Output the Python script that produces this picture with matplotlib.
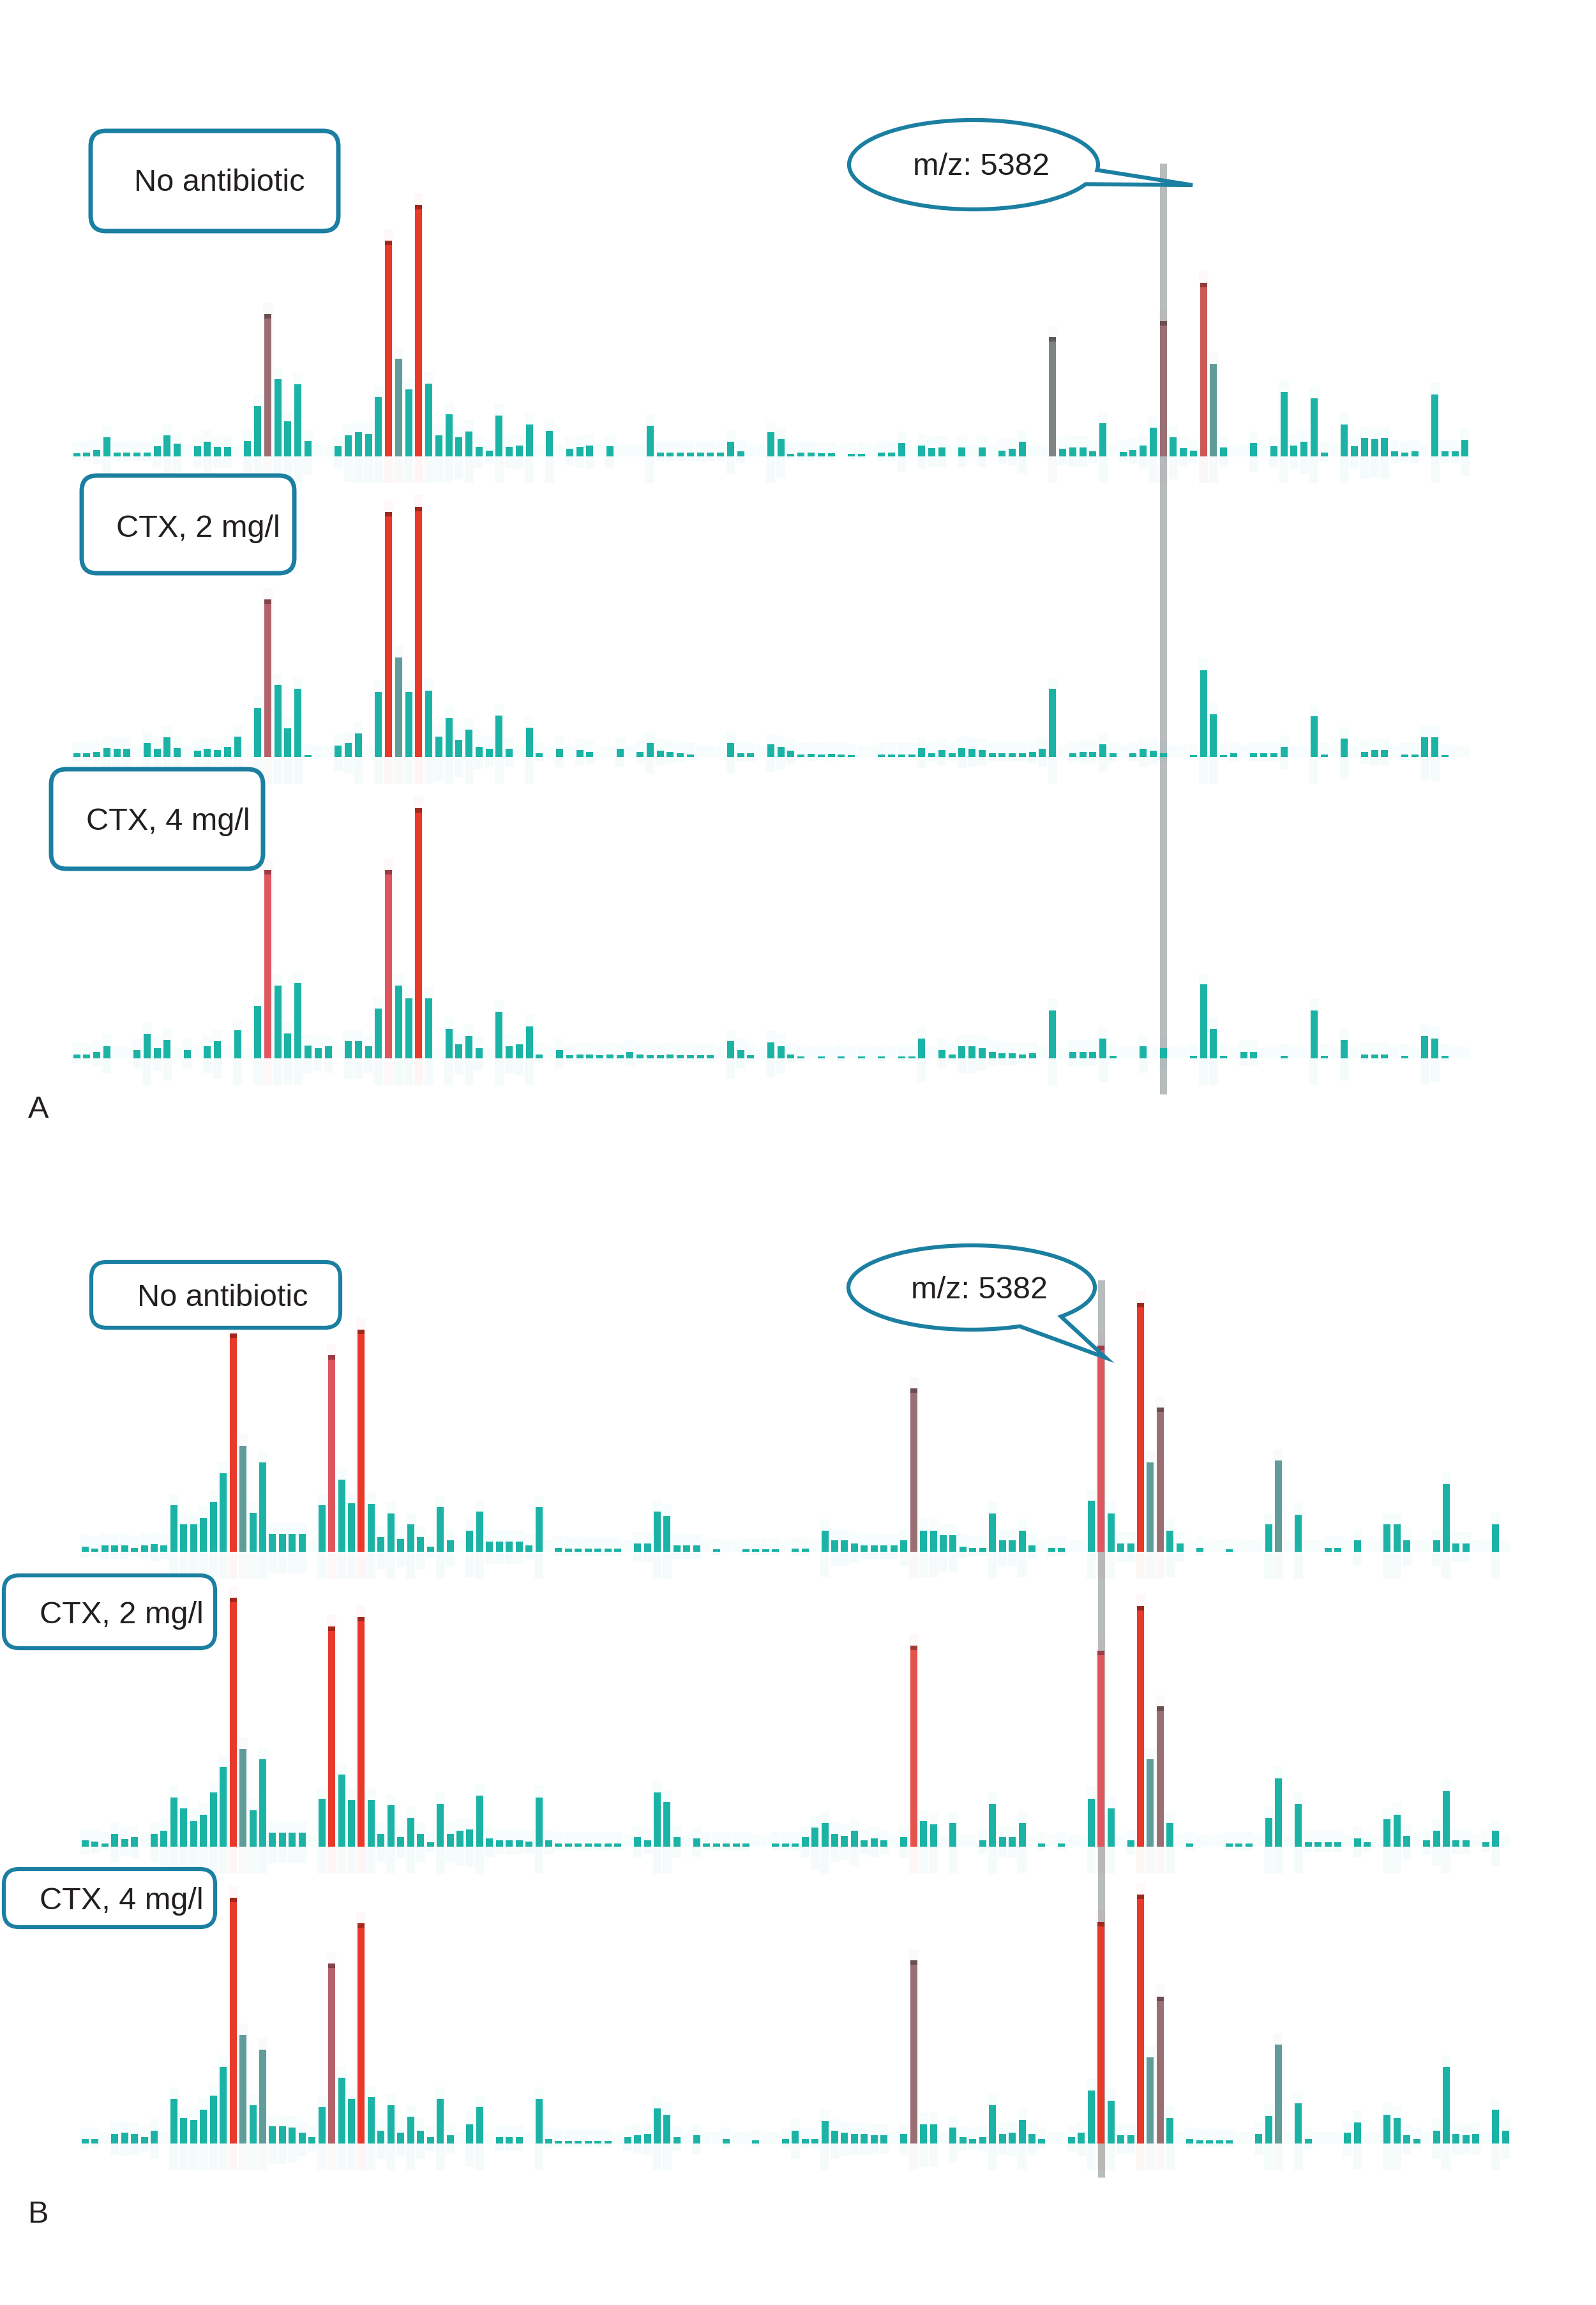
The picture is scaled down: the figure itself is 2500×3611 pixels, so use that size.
import numpy as np
import matplotlib
matplotlib.use("Agg")
import matplotlib.pyplot as plt
from matplotlib.patches import FancyBboxPatch, Polygon
from matplotlib.colors import to_rgb

# ---------------- data (peak intensities per m/z bin) ----------------
# Panel A spectra (139 bins each)
A_no_antibiotic = [5, 6, 10, 30, 6, 6, 6, 6, 16, 33,
                   20, 0, 16, 23, 15, 15, 0, 24, 79, 223,
                   121, 55, 113, 24, 0, 0, 16, 33, 38, 35,
                   93, 338, 153, 105, 394, 114, 33, 66, 30, 39,
                   15, 9, 64, 15, 17, 50, 0, 40, 0, 12,
                   15, 17, 0, 16, 0, 0, 0, 48, 6, 6,
                   6, 6, 6, 6, 6, 23, 8, 0, 0, 38,
                   27, 4, 6, 6, 5, 5, 0, 4, 4, 0,
                   6, 6, 21, 0, 17, 13, 14, 0, 14, 0,
                   14, 0, 9, 12, 23, 0, 0, 187, 12, 14,
                   14, 8, 52, 0, 7, 10, 17, 45, 212, 30,
                   13, 9, 272, 145, 14, 0, 0, 21, 0, 16,
                   101, 17, 23, 91, 6, 0, 50, 16, 29, 27,
                   29, 8, 6, 8, 0, 97, 8, 8, 26]
A_ctx2 = [6, 6, 8, 14, 13, 13, 0, 22, 13, 31,
          14, 0, 10, 13, 11, 16, 32, 0, 77, 247,
          113, 45, 107, 3, 0, 0, 18, 22, 37, 0,
          102, 384, 156, 102, 392, 104, 32, 61, 27, 43,
          16, 13, 65, 13, 0, 46, 6, 0, 13, 0,
          11, 8, 0, 0, 13, 0, 8, 22, 10, 8,
          6, 4, 0, 0, 0, 22, 6, 6, 0, 20,
          16, 10, 4, 5, 4, 5, 4, 3, 0, 0,
          4, 4, 4, 4, 14, 6, 11, 6, 14, 13,
          11, 6, 6, 6, 6, 8, 13, 107, 0, 6,
          8, 8, 20, 6, 0, 6, 13, 10, 6, 0,
          0, 3, 136, 67, 3, 6, 0, 6, 6, 6,
          16, 0, 0, 64, 4, 0, 29, 0, 8, 11,
          11, 0, 4, 4, 31, 31, 3, 0, 0]
A_ctx4 = [6, 6, 10, 19, 0, 0, 13, 38, 16, 29,
          0, 13, 0, 19, 27, 0, 44, 0, 82, 295,
          114, 39, 118, 20, 16, 19, 0, 27, 27, 19,
          78, 295, 114, 94, 392, 94, 0, 46, 22, 35,
          16, 0, 73, 19, 22, 50, 6, 0, 13, 5,
          6, 6, 5, 6, 5, 10, 6, 5, 5, 6,
          5, 5, 5, 5, 0, 27, 13, 5, 0, 25,
          19, 6, 3, 0, 3, 0, 3, 0, 3, 0,
          3, 0, 3, 3, 31, 0, 13, 6, 19, 19,
          16, 10, 8, 8, 6, 8, 0, 75, 0, 10,
          10, 10, 31, 4, 0, 0, 19, 0, 16, 0,
          0, 4, 116, 46, 4, 0, 10, 10, 0, 0,
          4, 0, 0, 75, 4, 0, 29, 0, 6, 6,
          6, 0, 4, 0, 35, 31, 4, 0, 0]

# Panel B spectra (145 bins each)
B_no_antibiotic = [8, 5, 10, 10, 10, 6, 10, 12, 10, 73,
                   43, 43, 53, 78, 123, 342, 166, 61, 140, 28,
                   28, 28, 28, 0, 73, 308, 113, 76, 348, 75,
                   23, 60, 20, 43, 23, 8, 70, 18, 0, 33,
                   63, 16, 16, 16, 16, 10, 70, 0, 6, 5,
                   5, 5, 5, 5, 5, 0, 13, 13, 63, 56,
                   10, 10, 10, 0, 4, 0, 0, 4, 4, 4,
                   4, 0, 5, 5, 0, 33, 18, 18, 13, 10,
                   10, 10, 10, 18, 256, 33, 33, 26, 26, 8,
                   6, 6, 60, 18, 18, 33, 10, 0, 6, 6,
                   0, 0, 80, 323, 60, 13, 13, 390, 140, 226,
                   33, 13, 0, 6, 0, 0, 4, 0, 0, 0,
                   43, 143, 0, 58, 0, 0, 6, 6, 0, 18,
                   0, 0, 43, 43, 18, 0, 0, 18, 106, 13,
                   13, 0, 0, 43, 0]
B_ctx2 = [10, 8, 5, 20, 12, 15, 0, 20, 25, 77,
          60, 40, 50, 85, 125, 390, 153, 57, 137, 22,
          22, 22, 22, 0, 75, 345, 113, 73, 360, 73,
          20, 65, 15, 45, 20, 7, 67, 20, 25, 27,
          80, 13, 10, 10, 10, 8, 77, 10, 5, 5,
          5, 5, 5, 5, 5, 0, 15, 10, 85, 70,
          15, 0, 13, 5, 5, 5, 5, 5, 0, 0,
          5, 5, 5, 15, 30, 37, 20, 17, 25, 10,
          13, 10, 0, 15, 315, 40, 35, 0, 37, 0,
          0, 10, 67, 15, 15, 37, 0, 5, 0, 5,
          0, 0, 75, 307, 60, 0, 10, 377, 137, 220,
          37, 0, 5, 0, 0, 0, 5, 5, 5, 0,
          45, 107, 0, 67, 7, 7, 7, 7, 0, 13,
          7, 0, 43, 50, 17, 0, 10, 25, 87, 10,
          10, 0, 7, 25, 0]
B_ctx4 = [7, 7, 0, 15, 17, 15, 10, 20, 0, 70,
          40, 37, 53, 75, 120, 385, 170, 60, 147, 27,
          27, 25, 17, 10, 57, 282, 103, 70, 345, 73,
          20, 60, 17, 42, 20, 10, 70, 13, 0, 30,
          57, 0, 10, 10, 10, 0, 70, 7, 4, 4,
          4, 4, 4, 4, 0, 10, 13, 15, 55, 45,
          10, 0, 13, 0, 0, 7, 0, 0, 5, 0,
          0, 7, 20, 7, 7, 35, 20, 17, 15, 15,
          13, 13, 0, 15, 287, 30, 30, 0, 25, 10,
          7, 10, 60, 15, 17, 37, 15, 7, 0, 0,
          10, 17, 83, 347, 67, 13, 13, 390, 135, 230,
          40, 0, 7, 5, 5, 5, 5, 0, 0, 15,
          43, 155, 0, 63, 7, 0, 0, 0, 17, 33,
          0, 0, 45, 40, 13, 7, 0, 20, 120, 15,
          13, 15, 0, 53, 20]

# peak classes (bin index -> class); all other bins are ordinary peaks
A_no_antibiotic_cls = {19: "m", 31: "r", 32: "g", 34: "r", 97: "k", 108: "m", 112: "s", 113: "g"}
A_ctx2_cls = {19: "m2", 31: "r", 32: "g", 34: "r"}
A_ctx4_cls = {19: "p", 31: "p", 34: "r"}
B_no_antibiotic_cls = {15: "r", 16: "g", 25: "p", 28: "r", 84: "m", 103: "p", 107: "r", 108: "g", 109: "m", 121: "g"}
B_ctx2_cls = {15: "r", 16: "g", 25: "r", 28: "r", 84: "r2", 103: "p", 107: "r", 108: "g", 109: "m"}
B_ctx4_cls = {15: "r", 16: "g", 18: "g", 25: "m2", 28: "r", 84: "m", 103: "r", 107: "r", 108: "g", 109: "m", 121: "g"}

labels = ["No antibiotic", "CTX, 2 mg/l", "CTX, 4 mg/l"]
marker_label = "m/z: 5382"
A_marker_bin = 108
B_marker_bin = 103

# ---------------- style ----------------
palette = {"t": "#1bb3a5", "r": "#e8392b", "r2": "#e4534c", "p": "#e0565f",
           "m": "#9a6f74", "m2": "#b4626a", "g": "#5f9c9a", "k": "#7f8383",
           "s": "#cc5955"}
BLUE = "#1b7fa1"
TXT = "#231f20"
FONT = ["Liberation Sans", "DejaVu Sans"]
W, H = 2500, 3612

fig = plt.figure(figsize=(25, 36.12), dpi=100)
fig.patch.set_facecolor("white")

bg = fig.add_axes([0, 0, 1, 1], zorder=1)
bg.set_xlim(0, W); bg.set_ylim(H, 0); bg.axis("off"); bg.patch.set_alpha(0)
fg = fig.add_axes([0, 0, 1, 1], zorder=3)
fg.set_xlim(0, W); fg.set_ylim(H, 0); fg.axis("off"); fg.patch.set_alpha(0)

A_x0, A_dx = 120.0, 15.76
B_x0, B_dx = 133.35, 15.45
TOP, BELOW = 480, 60


def darker(c, f=0.55):
    r, g, b = to_rgb(c)
    return (r * f, g * f, b * f)


def spectrum(baseline, heights, cls, x0, dx):
    ax = fig.add_axes([0, 1 - (baseline + BELOW) / H, 1, (TOP + BELOW) / H], zorder=2)
    ax.set_xlim(0, W); ax.set_ylim(-BELOW, TOP); ax.axis("off"); ax.patch.set_alpha(0)
    h = np.asarray(heights, float)
    x = x0 + dx * np.arange(len(h))
    cols = [palette[cls.get(i, "t")] for i in range(len(h))]
    # faint halo / reflection
    ax.bar(x, -np.minimum(h, 35) * 1.2, width=14, color=cols, alpha=0.045, linewidth=0)
    ax.bar(x, h + 18, width=15, color=cols, alpha=0.03, linewidth=0)
    ax.bar(x, h, width=11, color=cols, linewidth=0)
    # darker caps on highlighted peaks
    hi = [i for i in cls if cls[i] != "g"]
    ax.bar(x[hi], np.full(len(hi), 7), bottom=h[hi] - 7, width=11,
           color=[darker(palette[cls[i]], 0.7) for i in hi], linewidth=0)
    return x


def box(x0, y0, x1, y1, text, tx, tbase, lw=5.0):
    fg.add_patch(FancyBboxPatch((x0, y0), x1 - x0, y1 - y0,
                                boxstyle="round,pad=0,rounding_size=24",
                                facecolor="white", edgecolor=BLUE, linewidth=lw))
    fg.text(tx, tbase, text, ha="center", va="baseline", fontsize=35,
            color=TXT, family=FONT)


def bubble(cx, cy, a, b, t1, t2, tip, text, tbase):
    t = np.linspace(t2, t1 + 2 * np.pi, 300)
    pts = np.column_stack([cx + a * np.cos(t), cy + b * np.sin(t)])
    pts = np.vstack([pts, tip])
    fg.add_patch(Polygon(pts, closed=True, facecolor="none", edgecolor=BLUE,
                         linewidth=4.5, joinstyle="miter"))
    fg.text(cx + 12, tbase, text, ha="center", va="baseline", fontsize=35,
            color=TXT, family=FONT)


# ---------------- panel A ----------------
xa = spectrum(716, A_no_antibiotic, A_no_antibiotic_cls, A_x0, A_dx)
spectrum(1187, A_ctx2, A_ctx2_cls, A_x0, A_dx)
spectrum(1659, A_ctx4, A_ctx4_cls, A_x0, A_dx)
bg.plot([xa[A_marker_bin]] * 2, [257, 1715], color="#b8bcbd", lw=8, solid_capstyle="butt")

box(142, 206, 530, 363, labels[0], 344, 299)
box(128, 746, 461, 899, labels[1], 310, 841)
box(80, 1206, 412, 1362, labels[2], 263, 1300)
bubble(1525, 259, 195, 70, 0.12, 0.45, (1868, 291), marker_label, 274)
fg.text(44, 1751, "A", ha="left", va="baseline", fontsize=35, color=TXT, family=FONT)

# ---------------- panel B ----------------
xb = spectrum(2432, B_no_antibiotic, B_no_antibiotic_cls, B_x0, B_dx)
spectrum(2894, B_ctx2, B_ctx2_cls, B_x0, B_dx)
spectrum(3359, B_ctx4, B_ctx4_cls, B_x0, B_dx)
bg.plot([xb[B_marker_bin]] * 2, [2006, 3412], color="#b8bcbd", lw=8, solid_capstyle="butt")

box(143, 1978, 533, 2081, labels[0], 349, 2046, lw=4.5)
box(6, 2469, 337, 2583, labels[1], 190, 2543, lw=4.5)
box(6, 2929, 337, 3020, labels[2], 190, 2991, lw=4.5)
bubble(1522, 2018, 193, 66, 0.76, 1.17, (1732, 2128), marker_label, 2034)
fg.text(44, 3482, "B", ha="left", va="baseline", fontsize=35, color=TXT, family=FONT)

fig.savefig("out.png", dpi=100, facecolor="white")
